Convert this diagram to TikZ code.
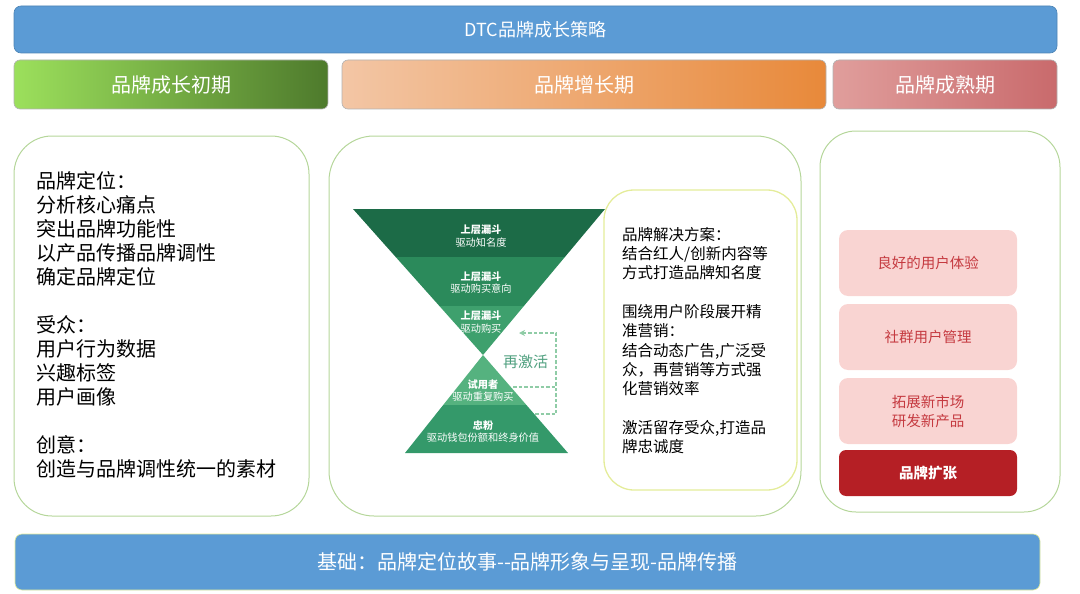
\documentclass[tikz,border=0pt]{standalone}
\usepackage{fontspec}
\setmainfont{Noto Sans CJK SC}
\usetikzlibrary{arrows.meta}
\definecolor{barblue}{HTML}{5B9BD5}
\definecolor{panelgreen}{HTML}{B5D69A}
\definecolor{innerbd}{HTML}{E4EC9A}
\definecolor{fA}{HTML}{1C6B47}
\definecolor{fB}{HTML}{2B8A5B}
\definecolor{fC}{HTML}{3EA06D}
\definecolor{fD}{HTML}{55B27F}
\definecolor{fE}{HTML}{34996A}
\definecolor{dashgreen}{HTML}{8FCCA6}
\definecolor{reactgreen}{HTML}{4E9F7E}
\definecolor{pinkbox}{HTML}{F9D4D2}
\definecolor{pinktext}{HTML}{C53A40}
\definecolor{darkred}{HTML}{B51F25}
\definecolor{gL}{HTML}{9CE05C}
\definecolor{gR}{HTML}{4E7A2C}
\definecolor{oL}{HTML}{F3C6A5}
\definecolor{oR}{HTML}{E8893A}
\definecolor{rL}{HTML}{E09E9C}
\definecolor{rR}{HTML}{C96A6C}
\tikzset{
  bluebar/.style={fill=barblue, draw=barblue!85!black, line width=0.6pt, rounded corners=7pt, text=white},
  phasebox/.style={draw=gray!60, line width=0.6pt, rounded corners=6pt, text=white, minimum height=49pt, font={\fontsize{20}{24}\selectfont}},
  panel/.style={draw=panelgreen, line width=1pt},
  bodytext/.style={anchor=north west, align=left, inner sep=0pt, text=black},
  funtext/.style={align=center, inner sep=0pt, text=white, font={\fontsize{10.2}{12.8}\selectfont}},
  pinkitem/.style={fill=pinkbox, rounded corners=9pt, minimum width=178pt, minimum height=66pt, text=pinktext, align=center, font={\fontsize{14.5}{19}\selectfont}},
  redash/.style={draw=dashgreen, dashed, dash pattern=on 3.5pt off 2pt, line width=1.4pt}
}
\begin{document}
\begin{tikzpicture}[x=1pt,y=-1pt]
\useasboundingbox (0,0) rectangle (1080,594);
% top bar
\node[bluebar, minimum width=1043pt, minimum height=47pt, font={\fontsize{18}{22}\selectfont}] (title) at (535.5,29.5) {DTC品牌成长策略};
% phase boxes
\node[phasebox, left color=gL, right color=gR, minimum width=314pt] (p1) at (171,84.5) {品牌成长初期};
\node[phasebox, left color=oL, right color=oR, minimum width=484pt] (p2) at (584,84.5) {品牌增长期};
\node[phasebox, left color=rL, right color=rR, minimum width=224pt] (p3) at (945,84.5) {品牌成熟期};
% panels
\draw[panel, rounded corners=38pt] (14,136) rectangle (309,516);
\draw[panel, rounded corners=45pt] (329,136) rectangle (801,516);
\draw[panel, rounded corners=36pt] (820,131) rectangle (1060,512);
% left text
\node[bodytext, font={\fontsize{20}{24}\selectfont}] (lefttext) at (36,171) {品牌定位：\\分析核心痛点\\突出品牌功能性\\以产品传播品牌调性\\确定品牌定位\\[24pt]受众：\\用户行为数据\\兴趣标签\\用户画像\\[24pt]创意：\\创造与品牌调性统一的素材};
% inner box
\draw[draw=innerbd, line width=1.3pt, rounded corners=30pt] (604,190) rectangle (797,490);
\node[bodytext, font={\fontsize{15.5}{19.3}\selectfont}] (midtext) at (622,227) {品牌解决方案：\\结合红人/创新内容等\\方式打造品牌知名度\\[19.3pt]围绕用户阶段展开精\\准营销：\\结合动态广告,广泛受\\众，再营销等方式强\\化营销效率\\[19.3pt]激活留存受众,打造品\\牌忠诚度};
% funnel top
\fill[fA] (353,209) -- (605,209) -- (564.9,257) -- (395.7,257) -- cycle;
\fill[fB] (395.7,257) -- (564.9,257) -- (523.9,306) -- (439.4,306) -- cycle;
\fill[fC] (439.4,306) -- (523.9,306) -- (483,355) -- cycle;
% funnel bottom
\fill[fD] (483,355) -- (526.4,405) -- (443.2,405) -- cycle;
\fill[fE] (443.2,405) -- (526.4,405) -- (568,453) -- (405,453) -- cycle;
\node[funtext] (b1) at (481,236) {\textbf{上层漏斗}\\驱动知名度};
\node[funtext] (b2) at (481,282.5) {\textbf{上层漏斗}\\驱动购买意向};
\node[funtext] (b3) at (481,322) {\textbf{上层漏斗}\\驱动购买};
\node[funtext] (b4) at (483,390.5) {\textbf{试用者}\\驱动重复购买};
\node[funtext] (b5) at (483,431.5) {\textbf{忠粉}\\驱动钱包份额和终身价值};
% reactivation arrow
\coordinate (rs) at (535,414);
\coordinate (rc1) at (556,414);
\coordinate (rc2) at (556,333);
\coordinate (re) at (519,333);
\coordinate (ms) at (513,387);
\coordinate (me) at (556,387);
\draw[redash, -{Stealth[length=6pt,width=6pt]}] (rs) -- (rc1) -- (rc2) -- (re);
\draw[redash] (ms) -- (me);
\node[text=reactgreen, inner sep=0pt, font={\fontsize{15}{18}\selectfont}] (react) at (525.5,362) {再激活};
% right column
\node[pinkitem] (r1) at (928,263) {良好的用户体验};
\node[pinkitem] (r2) at (928,337) {社群用户管理};
\node[pinkitem] (r3) at (928,411) {拓展新市场\\研发新产品};
\node[pinkitem, fill=darkred, text=white, minimum height=46pt, rounded corners=7pt, font={\fontsize{14.5}{19}\selectfont\bfseries}] (r4) at (928,473) {品牌扩张};
% bottom bar
\node[bluebar, draw=innerbd, minimum width=1025pt, minimum height=56pt, font={\fontsize{20}{24}\selectfont}] (base) at (527.5,562) {基础：品牌定位故事-{}-品牌形象与呈现-品牌传播};
\end{tikzpicture}
\end{document}
